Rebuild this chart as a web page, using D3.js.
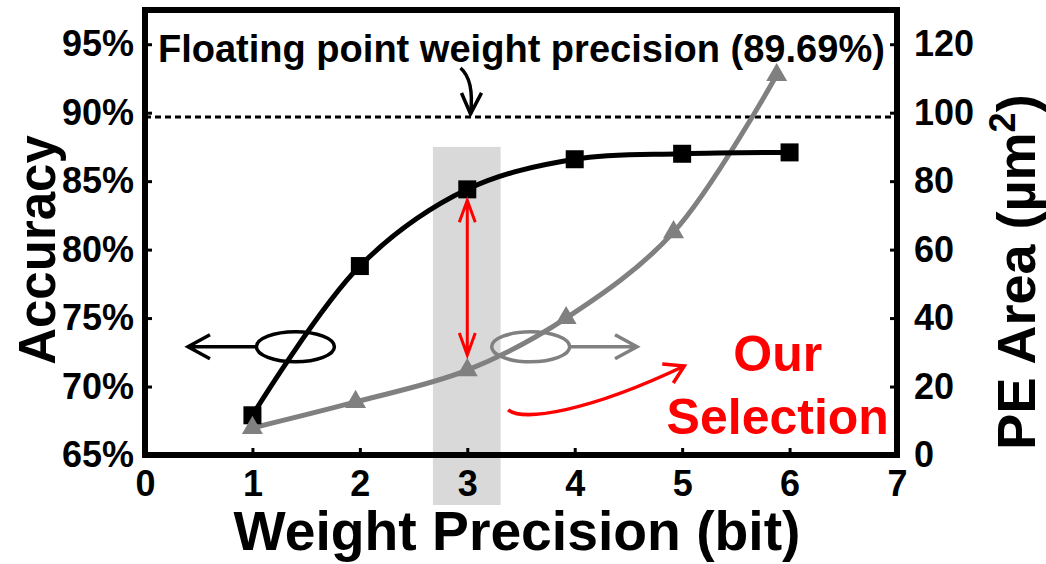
<!DOCTYPE html>
<html>
<head>
<meta charset="utf-8">
<script src="https://cdn.jsdelivr.net/npm/d3@7"></script>
<style>
  body { margin:0; background:#fff; }
  text { font-family:"Liberation Sans", Arial, sans-serif; font-weight:bold; }
</style>
</head>
<body>
<svg id="chart" width="1046" height="564"></svg>
<script>
// data
var bits      = [1, 2, 3, 4, 5, 6];
var accuracy  = [67.9, 78.8, 84.4, 86.6, 87.0, 87.1];     // %
var areaBits  = [1, 1.96, 3, 3.92, 4.92, 5.88];
var peArea    = [7.9, 15.5, 24.8, 40.0, 65.1, 111.0];    // um^2
var floatAcc  = 89.69;
var xTicks    = [0, 1, 2, 3, 4, 5, 6, 7];
var accTicks  = [65, 70, 75, 80, 85, 90, 95];
var areaTicks = [0, 20, 40, 60, 80, 100, 120];

(function() {

	var svg = d3.select("#chart");

	var left = 145, right = 897, top = 10, bottom = 455;

	var x  = d3.scaleLinear().domain([0, 7]).range([left, right]);
	var yL = d3.scaleLinear().domain([65, 97.5]).range([bottom, top]);
	var yR = d3.scaleLinear().domain([0, 130]).range([bottom, top]);

	// selection band
	// --------------
	svg.append("rect")
		.attr("x", x(2.68))
		.attr("y", yL(87.5))
		.attr("width", x(3.31) - x(2.68))
		.attr("height", bottom + 50 - yL(87.5))
		.attr("fill", "#d9d9d9");

	// floating point reference line
	// -----------------------------
	var yf = yL(floatAcc);
	svg.append("line")
		.attr("x1", left).attr("x2", right)
		.attr("y1", yf).attr("y2", yf)
		.attr("stroke", "#000").attr("stroke-width", 3)
		.attr("stroke-dasharray", "6,4");

	svg.append("text")
		.attr("x", x(0.12)).attr("y", 62)
		.attr("textLength", 727).attr("lengthAdjust", "spacingAndGlyphs")
		.style("font-size", "38px")
		.text("Floating point weight precision (" + floatAcc + "%)");

	var fx = x(3.03);
	svg.append("path")
		.attr("d", "M" + (fx - 10) + "," + 68 + " Q" + (fx + 4) + "," + 80 + " " + fx + "," + (yf - 3))
		.attr("fill", "none").attr("stroke", "#000").attr("stroke-width", 3.5);
	svg.append("path")
		.attr("d", "M" + (fx - 9) + "," + (yf - 24) + " L" + fx + "," + (yf - 3) + " L" + (fx + 11) + "," + (yf - 24))
		.attr("fill", "none").attr("stroke", "#000").attr("stroke-width", 3.5);

	// curves
	// ------
	var accPts  = bits.map(function(b, i) { return [x(b), yL(accuracy[i])]; });
	var areaPts = areaBits.map(function(b, i) { return [x(b), yR(peArea[i])]; });
	var line = d3.line().curve(d3.curveCatmullRom.alpha(0.5));

	svg.append("path").attr("d", line(areaPts))
		.attr("fill", "none").attr("stroke", "#808080").attr("stroke-width", 5);
	svg.append("path").attr("d", line(accPts))
		.attr("fill", "none").attr("stroke", "#000").attr("stroke-width", 5);

	svg.selectAll("rect.sq").data(accPts).enter().append("rect")
		.attr("class", "sq")
		.attr("x", function(d) { return d[0] - 9; })
		.attr("y", function(d) { return d[1] - 9; })
		.attr("width", 18).attr("height", 18)
		.attr("fill", "#000");

	var tri = d3.symbol().type(d3.symbolTriangle).size(190);
	svg.selectAll("path.tri").data(areaPts).enter().append("path")
		.attr("class", "tri")
		.attr("transform", function(d) { return "translate(" + d[0] + "," + d[1] + ")"; })
		.attr("d", tri)
		.attr("fill", "#808080");

	// axis legends (ellipse + arrow)
	// ------------------------------
	function legend(cx, tip, color) {
		var cy = yL(72.9);
		svg.append("ellipse")
			.attr("cx", x(cx)).attr("cy", cy).attr("rx", 39).attr("ry", 15)
			.attr("fill", "none").attr("stroke", color).attr("stroke-width", 3.5);
		var x0 = x(cx) + (tip < cx ? -39 : 39);
		var dir = tip < cx ? 1 : -1;
		svg.append("path")
			.attr("d", "M" + x0 + "," + cy + " L" + x(tip) + "," + cy +
				" M" + (x(tip) + dir * 22) + "," + (cy - 12) + " L" + x(tip) + "," + cy + " L" + (x(tip) + dir * 22) + "," + (cy + 12))
			.attr("fill", "none").attr("stroke", color).attr("stroke-width", 3.5);
	}
	legend(1.40, 0.40, "#000");
	legend(3.59, 4.58, "#808080");

	// red annotations
	// ---------------
	var ax = x(3), a1 = yL(83.6), a2 = yL(72.3);
	svg.append("path")
		.attr("d", "M" + ax + "," + a1 + " L" + ax + "," + a2 +
			" M" + (ax - 8) + "," + (a1 + 22) + " L" + ax + "," + a1 + " L" + (ax + 8) + "," + (a1 + 22) +
			" M" + (ax - 8) + "," + (a2 - 22) + " L" + ax + "," + a2 + " L" + (ax + 8) + "," + (a2 - 22))
		.attr("fill", "none").attr("stroke", "#ff0000").attr("stroke-width", 3);

	var s0 = [x(3.38), yL(68.3)], s1 = [x(5.02), yL(71.5)];
	svg.append("path")
		.attr("d", "M" + s0[0] + "," + s0[1] + " C" + (s0[0] + 15) + "," + (s0[1] + 12) + " " + (s0[0] + 80) + "," + (s0[1] + 2) + " " + s1[0] + "," + s1[1])
		.attr("fill", "none").attr("stroke", "#ff0000").attr("stroke-width", 3.5);
	svg.append("path")
		.attr("d", "M" + (s1[0] - 22) + "," + (s1[1] - 2) + " L" + s1[0] + "," + s1[1] + " L" + (s1[0] - 11) + "," + (s1[1] + 17))
		.attr("fill", "none").attr("stroke", "#ff0000").attr("stroke-width", 3.5);

	svg.append("text")
		.attr("x", x(5.89)).attr("y", 371).attr("text-anchor", "middle")
		.attr("fill", "#ff0000").style("font-size", "50px").text("Our");
	svg.append("text")
		.attr("x", x(5.89)).attr("y", 434).attr("text-anchor", "middle")
		.attr("fill", "#ff0000").style("font-size", "50px").text("Selection");

	// axes
	// ----
	var gx = svg.append("g").attr("transform", "translate(0," + bottom + ")")
		.call(d3.axisBottom(x).tickValues(xTicks).tickSize(-7).tickPadding(15).tickFormat(d3.format("d")));
	var gl = svg.append("g").attr("transform", "translate(" + left + ",0)")
		.call(d3.axisLeft(yL).tickValues(accTicks).tickSize(-7).tickPadding(11).tickFormat(function(d) { return d + "%"; }));
	var gr = svg.append("g").attr("transform", "translate(" + right + ",0)")
		.call(d3.axisRight(yR).tickValues(areaTicks).tickSize(-7).tickPadding(17));

	[gx, gl, gr].forEach(function(g) {
		g.select(".domain").remove();
		g.selectAll(".tick line").attr("stroke", "#000").attr("stroke-width", 3);
		g.selectAll(".tick text").attr("fill", "#000")
			.style("font-size", "36px").style("font-family", "\"Liberation Sans\", Arial, sans-serif");
	});
	gx.selectAll(".tick text").attr("dy", "0.72em");

	// frame
	// -----
	svg.append("rect")
		.attr("x", left).attr("y", top)
		.attr("width", right - left).attr("height", bottom - top)
		.attr("fill", "none").attr("stroke", "#000").attr("stroke-width", 6);

	// axis titles
	// -----------
	svg.append("text")
		.attr("x", 517).attr("y", 550).attr("text-anchor", "middle")
		.attr("textLength", 567).attr("lengthAdjust", "spacingAndGlyphs")
		.style("font-size", "55px").text("Weight Precision (bit)");

	svg.append("text")
		.attr("transform", "translate(55," + 250 + ") rotate(-90)")
		.attr("text-anchor", "middle")
		.style("font-size", "51px").text("Accuracy");

	var t = svg.append("text")
		.attr("transform", "translate(1035," + 272 + ") rotate(-90)")
		.attr("text-anchor", "middle")
		.style("font-size", "54px");
	t.append("tspan").text("PE Area (\u00b5m");
	t.append("tspan").attr("baseline-shift", "super").style("font-size", "36px").text("2");
	t.append("tspan").text(")");

})();
</script>
</body>
</html>
